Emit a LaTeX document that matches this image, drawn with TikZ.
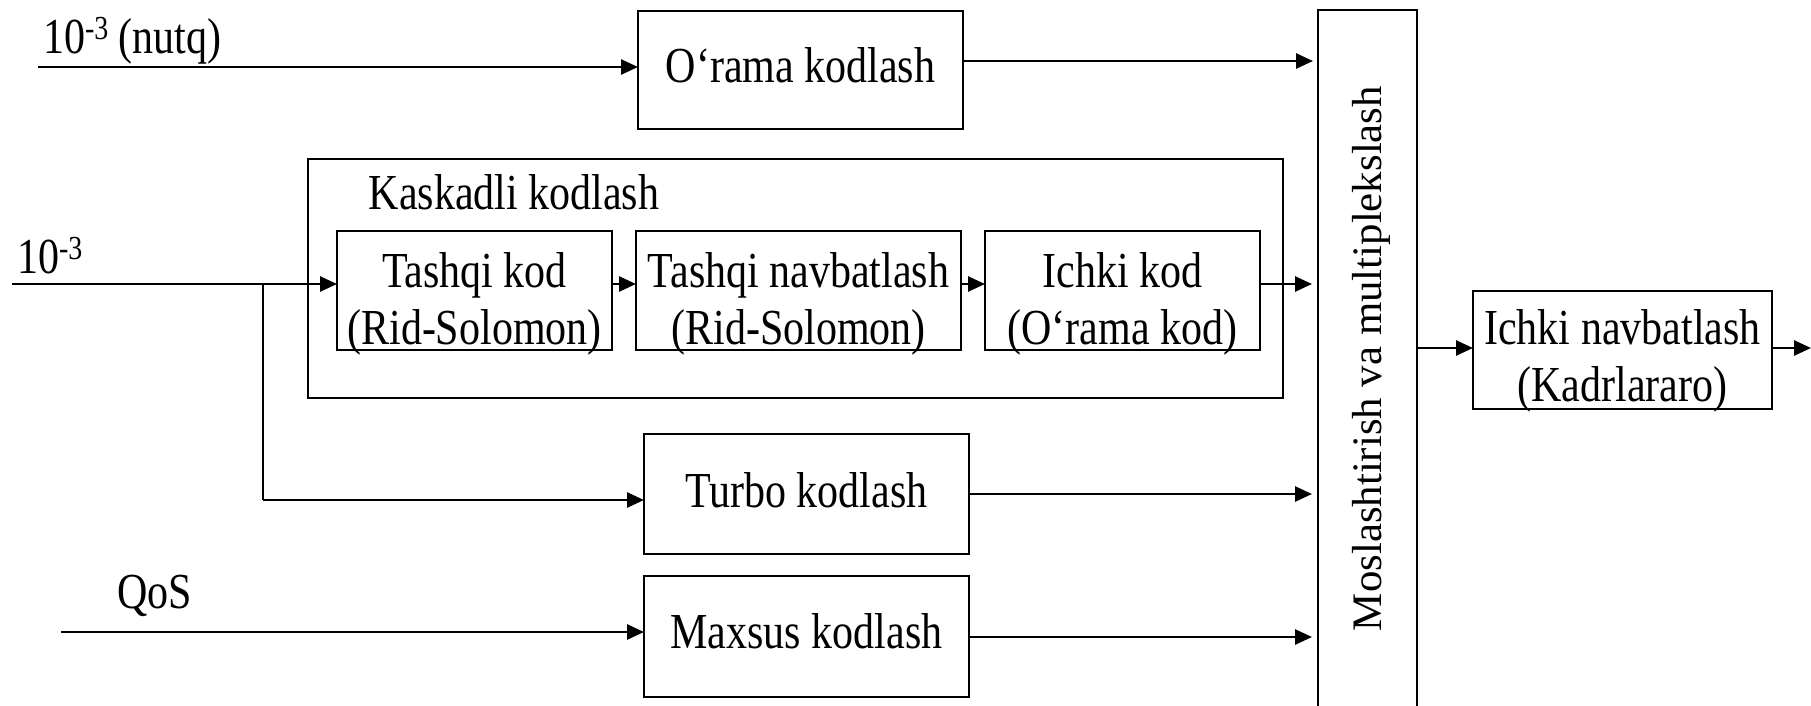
\documentclass[tikz,border=0pt]{standalone}
\usepackage{fontspec}
\usepackage{graphicx}
\setmainfont{Liberation Serif}
\usetikzlibrary{arrows.meta}
\newcommand{\twoln}[2]{\begin{tabular}[t]{@{}c@{}}#1\\#2\end{tabular}}
\newcommand{\supm}{\raisebox{11pt}{\fontsize{28}{30}\selectfont -3}}
\newcommand{\vst}[1]{\scalebox{1}[1.2]{#1}}
\begin{document}
\begin{tikzpicture}[x=1pt,y=-1pt,
  box/.style={draw, line width=2pt, rectangle, inner sep=0pt, outer sep=0pt},
  txt/.style={inner sep=0pt, outer sep=0pt, anchor=base, font=\fontsize{42}{48}\selectfont},
  arr/.style={line width=2.7pt, -{Triangle[length=17pt,width=15pt]}},
  thinline/.style={line width=2pt}]
\clip (0,0) rectangle (1811,705);
% boxes
\node[box, minimum width=325, minimum height=118] (orama) at (800.5,70) {};
\node[box, minimum width=975, minimum height=239] (kaskad) at (795.5,278.5) {};
\node[box, minimum width=275, minimum height=119] (tk) at (474.5,290.5) {};
\node[box, minimum width=325, minimum height=119] (tn) at (798.5,290.5) {};
\node[box, minimum width=275, minimum height=119] (ik) at (1122.5,290.5) {};
\node[box, minimum width=325, minimum height=120] (turbo) at (806.5,494) {};
\node[box, minimum width=325, minimum height=121] (maxsus) at (806.5,636.5) {};
\node[box, minimum width=99, minimum height=710] (mux) at (1367.5,365) {};
\node[box, minimum width=299, minimum height=118] (inav) at (1622.5,350) {};
% texts
\node[txt] (oramat) at (800.5,82) {\vst{O‘rama kodlash}};
\node[txt] (kaskadt) at (514,209) {\vst{Kaskadli kodlash}};
\node[txt] (tkt) at (474.5,287) {\vst{\twoln{Tashqi kod}{(Rid-Solomon)}}};
\node[txt] (tnt) at (798.5,287) {\vst{\twoln{Tashqi navbatlash}{(Rid-Solomon)}}};
\node[txt] (ikt) at (1122.5,287) {\vst{\twoln{Ichki kod}{(O‘rama kod)}}};
\node[txt] (turbot) at (806.5,507) {\vst{Turbo kodlash}};
\node[txt] (maxsust) at (806.5,648) {\vst{Maxsus kodlash}};
\node[txt] (inavt) at (1622.5,344) {\vst{\twoln{Ichki navbatlash}{(Kadrlararo)}}};
\node[txt, rotate=90] (muxt) at (1381,358.5) {\scalebox{1.02}[1]{Moslashtirish va multiplekslash}};
\node[txt, anchor=base west] (lab1) at (43,53) {\vst{10\supm{} (nutq)}};
\node[txt, anchor=base west] (lab2) at (17,273) {\vst{10\supm}};
\node[txt, anchor=base west] (lab3) at (117,608) {\vst{QoS}};
% free ends
\coordinate (in1) at (38,67);
\coordinate (in2) at (12,284);
\coordinate (br) at (263,284);
\coordinate (brd) at (263,500);
\coordinate (in3) at (61,632);
\coordinate (out) at (1811,348);
% connectors
\draw[arr] (in1) -- (orama.west |- in1);
\draw[arr, shorten >=5pt] (orama.east |- 0,61) -- (mux.west |- 0,61);
\draw[arr] (in2) -- (tk.west |- in2);
\draw[arr] (tk.east |- in2) -- (tn.west |- in2);
\draw[arr] (tn.east |- in2) -- (ik.west |- in2);
\draw[arr, shorten >=6pt] (ik.east |- in2) -- (mux.west |- in2);
\draw[thinline] (br) -- (brd);
\draw[arr] (brd) -- (turbo.west |- brd);
\draw[arr, shorten >=6pt] (turbo.east) -- (mux.west |- turbo.east);
\draw[arr] (in3) -- (maxsus.west |- in3);
\draw[arr, shorten >=6pt] (maxsus.east |- 0,637) -- (mux.west |- 0,637);
\draw[arr] (mux.east |- out) -- (inav.west |- out);
\draw[arr] (inav.east |- out) -- (out);
\end{tikzpicture}
\end{document}
